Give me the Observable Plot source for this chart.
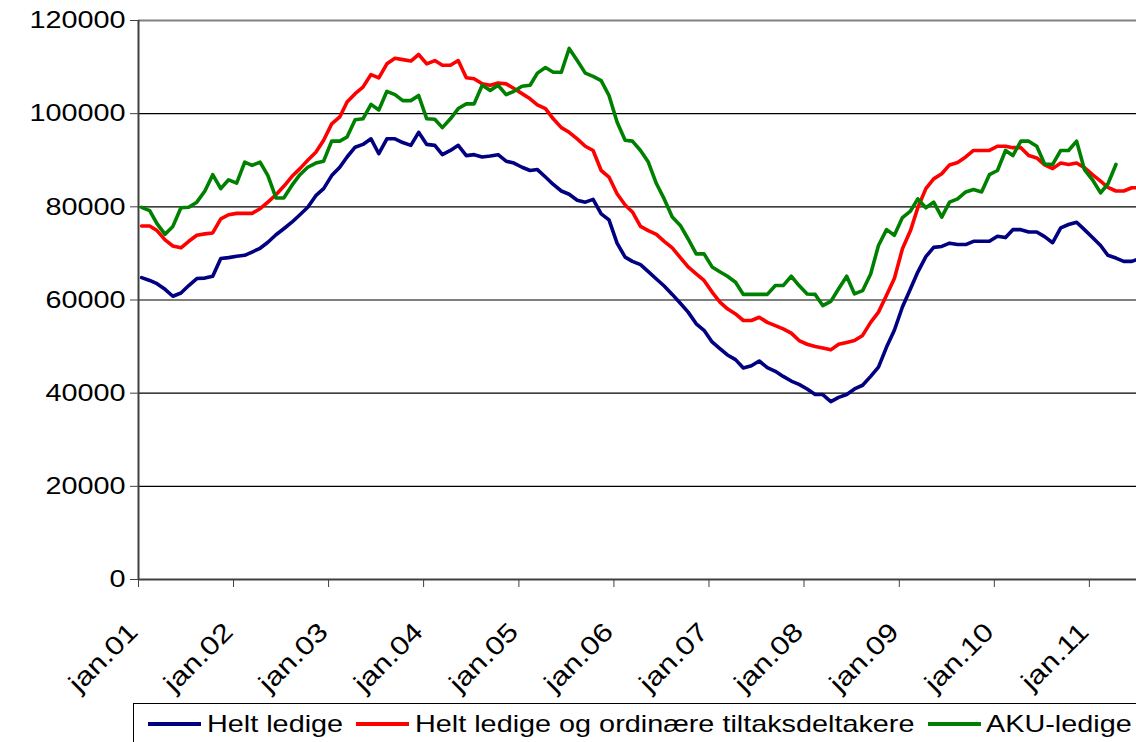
<!DOCTYPE html>
<html><head><meta charset="utf-8">
<script src="https://cdn.jsdelivr.net/npm/d3@7"></script>
<script src="https://cdn.jsdelivr.net/npm/@observablehq/plot@0.6"></script>
<style>
html,body{margin:0;padding:0;background:#fff;overflow:hidden;width:1136px;height:742px;}
body{font-family:"Liberation Sans",Arial,sans-serif;position:relative;}
#chart svg{display:block;}
#legend{position:absolute;left:133px;top:703px;width:1100px;height:50px;border-top:1.5px solid #000;border-left:1.5px solid #000;}
#legend .sw{position:absolute;top:18px;height:4px;width:53px;}
#legend .lb{position:absolute;top:8px;font-size:24px;line-height:24px;white-space:nowrap;transform:scaleX(1.2);transform-origin:left center;color:#000;}
</style></head><body>
<div id="chart"></div>
<div id="legend"></div>
<script>
// Monthly values from Jan 2001 (thousands of persons)
const seriesNames = ["Helt ledige", "Helt ledige og ordinære tiltaksdeltakere", "AKU-ledige"];
const seriesColors = ["#000080", "#FF0000", "#008000"];
const tickLabels = ["jan.01","jan.02","jan.03","jan.04","jan.05","jan.06","jan.07","jan.08","jan.09","jan.10","jan.11"];
const yTicks = [0, 20000, 40000, 60000, 80000, 100000, 120000];

const heltLedige = [
64.8,64.2,63.5,62.3,60.8,61.5,63.1,64.6,64.7,65.1,68.9,69.1,
69.4,69.6,70.3,71.1,72.4,74.0,75.3,76.7,78.3,79.9,82.4,83.9,
86.7,88.5,90.7,92.8,93.4,94.6,91.4,94.6,94.6,93.8,93.2,96.0,
93.4,93.2,91.2,92.1,93.2,91.0,91.2,90.7,90.9,91.2,89.8,89.4,
88.5,87.8,88.0,86.4,84.8,83.4,82.7,81.4,81.0,81.6,78.5,77.2,
72.2,69.2,68.3,67.6,66.1,64.5,63.0,61.2,59.3,57.4,54.9,53.5,
51.0,49.5,48.2,47.2,45.4,45.9,46.9,45.5,44.7,43.6,42.6,41.9,
40.9,39.7,39.7,38.2,39.1,39.7,40.9,41.7,43.6,45.6,49.9,53.5,
58.5,62.4,66.0,69.3,71.3,71.5,72.2,71.9,71.9,72.6,72.6,72.6,
73.7,73.4,75.1,75.1,74.6,74.6,73.6,72.3,75.5,76.2,76.7,75.1,
73.4,71.7,69.6,69.0,68.3,68.3,68.9];

const tiltaksdeltakere = [
75.9,75.9,74.9,72.9,71.6,71.2,72.6,73.9,74.2,74.4,77.4,78.3,
78.6,78.6,78.6,79.6,81.0,82.6,84.4,86.5,88.2,90.0,91.7,94.3,
97.8,99.3,102.5,104.3,105.7,108.4,107.7,110.7,111.9,111.6,111.3,112.7,
110.7,111.4,110.4,110.4,111.4,107.7,107.5,106.4,106.1,106.6,106.4,105.4,
104.3,103.2,101.9,101.1,98.9,97.0,96.0,94.6,93.0,92.1,87.8,86.4,
82.8,80.4,78.9,75.8,74.9,74.1,72.6,71.2,69.1,67.1,65.6,64.2,
61.7,59.5,58.1,57.0,55.6,55.6,56.3,55.2,54.5,53.8,52.9,51.3,
50.5,50.0,49.7,49.3,50.5,50.9,51.3,52.4,55.2,57.4,61.0,64.6,
71.0,74.9,79.8,83.9,86.0,87.1,89.0,89.5,90.7,92.1,92.1,92.1,
93.0,93.0,92.7,92.7,91.0,90.5,89.0,88.2,89.4,89.1,89.4,88.4,
86.9,85.5,84.2,83.4,83.4,84.1,84.1];

const akuLedige = [
79.9,79.2,76.4,74.1,75.8,79.8,79.9,81.0,83.4,86.9,83.9,85.8,
85.1,89.6,88.9,89.6,86.7,81.9,81.9,84.6,86.9,88.5,89.4,89.8,
94.1,94.1,95.0,98.7,98.9,102.0,100.8,104.8,104.1,102.8,102.8,103.9,
98.9,98.8,97.0,98.9,101.1,102.1,102.1,106.1,105.0,106.1,104.1,104.8,
105.9,106.1,108.7,109.9,108.9,108.9,114.0,111.4,108.7,108.0,107.1,103.9,
98.2,94.3,94.1,92.1,89.6,85.0,81.7,77.8,76.0,73.1,69.9,69.9,
67.1,66.0,65.1,63.8,61.2,61.2,61.2,61.2,63.1,63.1,65.1,63.1,
61.3,61.2,58.8,59.7,62.4,65.1,61.3,62.0,65.6,71.7,75.1,73.9,
77.7,79.1,81.7,79.8,81.0,77.8,81.0,81.7,83.2,83.7,83.2,86.9,
87.8,92.1,91.0,94.1,94.1,93.0,89.2,89.1,92.1,92.1,94.1,88.0,
85.8,83.0,84.9,89.1];

const allSeries = [heltLedige, tiltaksdeltakere, akuLedige];
const rows = [];
allSeries.forEach((arr, s) => arr.forEach((v, i) => rows.push({
  date: new Date(Date.UTC(2001, i, 13)),
  value: v * 1000,
  series: seriesNames[s]
})));

const tickDates = tickLabels.map((_, i) => new Date(Date.UTC(2001 + i, 0, 1)));
const x0 = new Date(Date.UTC(2001, 0, 1));

const chart = Plot.plot({
  width: 1136,
  height: 700,
  marginLeft: 138,
  marginRight: 0,
  marginTop: 20,
  marginBottom: 121,
  style: {fontFamily: "'Liberation Sans', Arial, sans-serif", fontSize: "24px", color: "#000", background: "#fff", overflow: "hidden"},
  x: {type: "utc", domain: [x0, new Date(Date.UTC(2011, 6, 1))], label: null},
  y: {domain: [0, 120000], label: null},
  color: {domain: seriesNames, range: seriesColors},
  marks: [
    Plot.ruleY(yTicks.filter(d => d > 0 && d < 120000), {stroke: "#000", strokeWidth: 1.2}),
    Plot.ruleY([120000], {stroke: "#808080", strokeWidth: 2}),
    Plot.line(rows, {x: "date", y: "value", z: "series", stroke: "series", strokeWidth: 3.6, strokeLinejoin: "round"}),
    Plot.ruleX([x0], {stroke: "#404040", strokeWidth: 2}),
    Plot.ruleY([0], {stroke: "#404040", strokeWidth: 2}),
    Plot.axisY(yTicks, {tickSize: 8, tickPadding: 5, tickFormat: d3.format("d"), stroke: "#404040", fontSize: 24, label: null}),
    Plot.axisX(tickDates, {tickSize: 8, stroke: "#404040", label: null, tickFormat: () => ""}),
    Plot.axisX(tickDates, {tickSize: 0, tickPadding: 48, tickRotate: -45, fontSize: 26, label: null, dx: -5,
      tickFormat: d => tickLabels[d.getUTCFullYear() - 2001]})
  ]
});
document.getElementById("chart").appendChild(chart);

// widen tick label glyphs along their baseline (original chart is stretched)
chart.querySelectorAll('g[aria-label$="tick label"] text').forEach(t => {
  const tr = t.getAttribute("transform");
  if (tr) t.setAttribute("transform", tr + " scale(1.2,1)");
});

// legend
const legend = document.getElementById("legend");
const swLeft = [14, 222, 794];
const lbLeft = [73, 281, 852];
seriesNames.forEach((name, i) => {
  const sw = document.createElement("div");
  sw.className = "sw"; sw.style.left = swLeft[i] + "px"; sw.style.background = seriesColors[i];
  const lb = document.createElement("div");
  lb.className = "lb"; lb.style.left = lbLeft[i] + "px"; lb.textContent = name;
  legend.appendChild(sw); legend.appendChild(lb);
});
</script>
</body></html>
